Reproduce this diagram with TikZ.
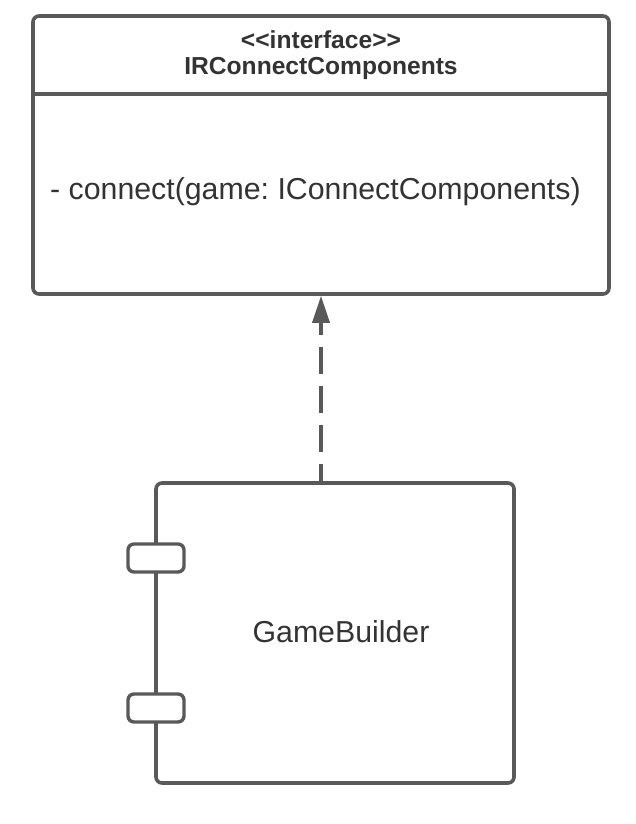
\documentclass[tikz,border=0pt]{standalone}
\usepackage{fontspec}
\setmainfont{Liberation Sans}
\usetikzlibrary{arrows.meta}
\definecolor{ln}{HTML}{595959}
\definecolor{tx}{HTML}{333333}
\frenchspacing
\begin{document}
\begin{tikzpicture}[x=1pt,y=-1pt,
  boxstyle/.style={draw=ln,line width=3.6pt,rounded corners=6pt,fill=white,inner sep=0pt},
  portstyle/.style={draw=ln,line width=3.4pt,rounded corners=6pt,fill=white,inner sep=0pt,minimum width=56pt,minimum height=28pt},
  txt/.style={text=tx,inner sep=0pt}]
\useasboundingbox (0,0) rectangle (635,824);
\node[boxstyle,minimum width=576pt,minimum height=278pt] (iface) at (321,155) {};
\draw[ln,line width=3.6pt] ([yshift=-80pt]iface.north west) -- ([yshift=-80pt]iface.north east);
\node[txt,font=\fontsize{24.6pt}{28pt}\selectfont\bfseries] (stereo) at (321,40) {<{}<interface>{}>};
\node[txt,font=\fontsize{24.6pt}{28pt}\selectfont\bfseries] (iname) at (321,68) {IRConnectComponents};
\node[txt,anchor=west,font=\fontsize{30.3pt}{34pt}\selectfont] (meth) at (50,192) {- connect(game: IConnectComponents)};
\node[boxstyle,minimum width=358pt,minimum height=300pt] (comp) at (335,633) {};
\node[txt,font=\fontsize{30.3pt}{34pt}\selectfont] (cname) at (341,632) {GameBuilder};
\node[portstyle] (p1) at (156,558) {};
\node[portstyle] (p2) at (156,708) {};
\draw[ln,line width=3.6pt,dash pattern=on 27pt off 12pt,dash phase=10pt,-{Triangle[length=27pt,width=17pt]}]
  (iface.south |- comp.north) -- (iface.south);
\end{tikzpicture}
\end{document}
